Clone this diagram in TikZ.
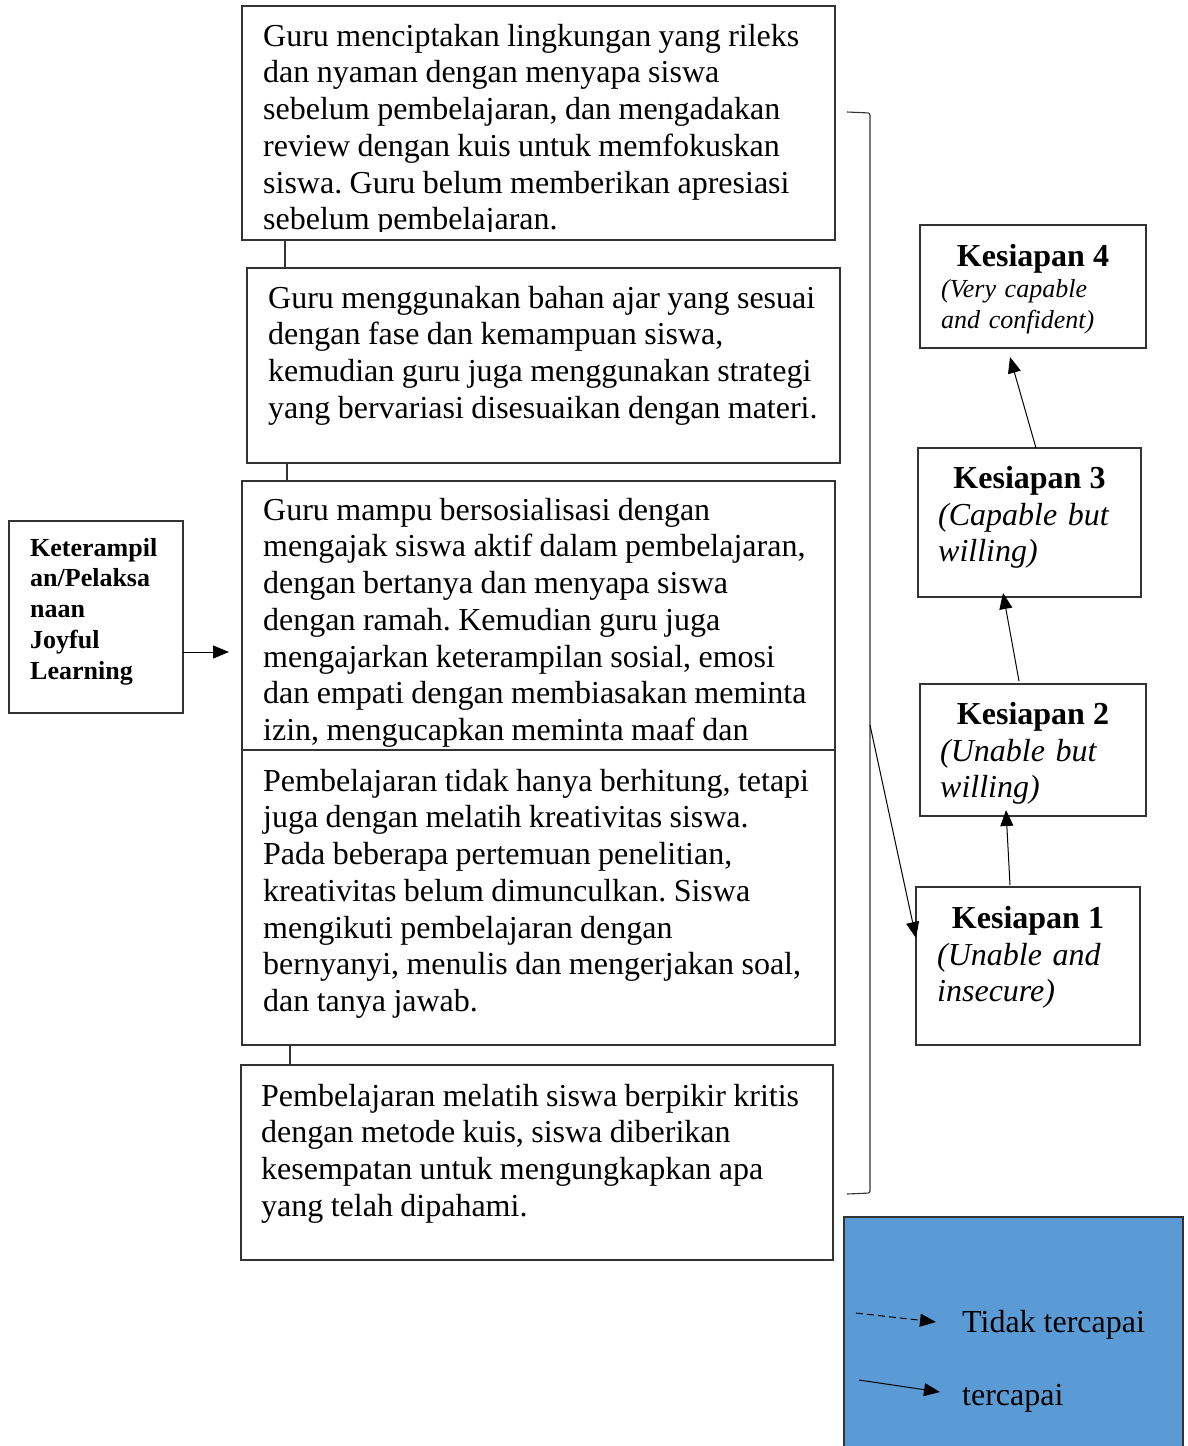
\documentclass[tikz,border=0pt]{standalone}
\usepackage{fontspec}
\setmainfont{Liberation Serif}
\usetikzlibrary{arrows.meta}
\definecolor{legendblue}{HTML}{5B9BD5}
\definecolor{edgegray}{gray}{0.2}
% slightly tighter word spacing for the long paragraphs
\newcommand\tightwords{\spaceskip=7.4pt plus 2pt minus 1pt\relax}

\begin{document}
\begin{tikzpicture}[x=1pt,y=-1pt,
  box/.style={draw=edgegray, line width=1.2pt, fill=white, rectangle,
    inner sep=0pt, outer sep=0pt, anchor=north west},
  conn/.style={draw=edgegray, line width=1.1pt},
  arr/.style={draw=black, line width=1pt, -{Triangle[length=16pt,width=13pt]}},
  body/.style={anchor=north west, inner sep=0pt, align=left, text width=600pt,
    font=\frenchspacing\fontsize{32}{36.7}\selectfont,
    execute at begin node=\tightwords, yshift=25.69pt},
  subbig/.style={anchor=north west, inner sep=0pt, align=left, text width=220pt,
    font=\itshape\fontsize{32}{36.7}\selectfont, yshift=25.69pt},
  subsmall/.style={anchor=north west, inner sep=0pt, align=left, text width=220pt,
    font=\itshape\fontsize{26}{31}\selectfont, yshift=21.7pt},
  sidelabel/.style={anchor=north west, inner sep=0pt, align=left, text width=170pt,
    font=\bfseries\fontsize{26}{30.75}\selectfont, yshift=21.53pt},
  ktitle/.style={anchor=base, inner sep=0pt, font=\bfseries\fontsize{32}{36.7}\selectfont},
  legendtext/.style={anchor=base west, inner sep=0pt, font=\fontsize{32}{36.7}\selectfont}
]
\useasboundingbox[fill=white] (0,0) rectangle (1187,1446);

% ---- left label ----
\node[box, minimum width=174pt, minimum height=192pt] (L) at (9,521) {};
\node[sidelabel] (Lt) at (30,556) {\strut Keterampil\\an/Pelaksa\\naan\\Joyful\\Learning};

% ---- column of activity boxes ----
\node[box, minimum width=593pt, minimum height=234pt] (A) at (242,6) {};
\begin{scope}
  \clip (242,6) rectangle (835,231);
  \node[body] (At) at (263,46) {\strut Guru menciptakan lingkungan yang rileks\\
    dan nyaman dengan menyapa siswa\\
    sebelum pembelajaran, dan mengadakan\\
    review dengan kuis untuk memfokuskan\\
    siswa. Guru belum memberikan apresiasi\\
    sebelum pembelajaran.};
\end{scope}

\node[box, minimum width=593pt, minimum height=195pt] (B) at (247,268) {};
\node[body] (Bt) at (268,308) {\strut Guru menggunakan bahan ajar yang sesuai\\
  dengan fase dan kemampuan siswa,\\
  kemudian guru juga menggunakan strategi\\
  yang bervariasi disesuaikan dengan materi.};

\node[box, minimum width=593pt, minimum height=269pt] (C) at (242,481) {};
\begin{scope}
  \clip (242,481) rectangle (835,750);
  \node[body] (Ct) at (263,520) {\strut Guru mampu bersosialisasi dengan\\
    mengajak siswa aktif dalam pembelajaran,\\
    dengan bertanya dan menyapa siswa\\
    dengan ramah. Kemudian guru juga\\
    mengajarkan keterampilan sosial, emosi\\
    dan empati dengan membiasakan meminta\\
    izin, mengucapkan meminta maaf dan};
\end{scope}

\node[box, minimum width=593pt, minimum height=295pt] (D) at (242,750) {};
\node[body] (Dt) at (263,791) {\strut Pembelajaran tidak hanya berhitung, tetapi\\
  juga dengan melatih kreativitas siswa.\\
  Pada beberapa pertemuan penelitian,\\
  kreativitas belum dimunculkan. Siswa\\
  mengikuti pembelajaran dengan\\
  bernyanyi, menulis dan mengerjakan soal,\\
  dan tanya jawab.};

\node[box, minimum width=592pt, minimum height=195pt] (E) at (241,1065) {};
\node[body] (Et) at (261,1106) {\strut Pembelajaran melatih siswa berpikir kritis\\
  dengan metode kuis, siswa diberikan\\
  kesempatan untuk mengungkapkan apa\\
  yang telah dipahami.};

% short links between stacked boxes
\draw[conn] ([xshift=43pt]A.south west) -- ([xshift=43pt]A.south west |- B.north);
\draw[conn] ([xshift=40pt]B.south west) -- ([xshift=40pt]B.south west |- C.north);
\draw[conn] ([xshift=48pt]D.south west) -- ([xshift=48pt]D.south west |- E.north);

% arrow from the label into the column
\draw[arr, shorten >=13pt] ([yshift=-35pt]L.east) -- ([yshift=-35pt]L.east -| C.west);

% ---- readiness levels ----
\node[box, minimum width=226pt, minimum height=123pt] (K4) at (920,225) {};
\node[ktitle] (K4t) at (1033,266) {Kesiapan 4};
\node[subsmall] (K4s) at (941,297) {\strut (Very capable\\and confident)};

\node[box, minimum width=223pt, minimum height=149pt] (K3) at (918,448) {};
\node[ktitle] (K3t) at (1029.5,488) {Kesiapan 3};
\node[subbig] (K3s) at (938,525) {\strut (Capable but\\willing)};

\node[box, minimum width=226pt, minimum height=132pt] (K2) at (920,684) {};
\node[ktitle] (K2t) at (1033,724) {Kesiapan 2};
\node[subbig] (K2s) at (940,761) {\strut (Unable but\\willing)};

\node[box, minimum width=224pt, minimum height=158pt] (K1) at (916,887) {};
\node[ktitle] (K1t) at (1028,928) {Kesiapan 1};
\node[subbig] (K1s) at (937,965) {\strut (Unable and\\insecure)};

\draw[arr] ([xshift=94pt,yshift=2pt]K1.north west) -- ([xshift=86pt,yshift=6pt]K2.south west);
\draw[arr] ([xshift=99pt,yshift=3pt]K2.north west) -- ([xshift=85pt,yshift=4pt]K3.south west);
\draw[arr] ([xshift=118pt]K3.north west) -- ([xshift=90pt,yshift=-9pt]K4.south west);

% bracket gathering the activity column
\coordinate (brTop) at (847,112);
\coordinate (brBot) at (847,1194);
\coordinate (brOut) at (870,725);
\draw[conn, rounded corners=2pt] (brTop) -- (870,113) -- (870,1193) -- (brBot);
\draw[arr] (brOut) -- ([yshift=-51pt]K1.north west);

% ---- legend ----
\node[box, fill=legendblue, minimum width=339pt, minimum height=240pt] (G) at (844,1217) {};
\coordinate (ldA) at (856,1313);
\coordinate (ldB) at (936,1322);
\coordinate (lsA) at (859,1380);
\coordinate (lsB) at (940,1392);
\draw[arr, dash pattern=on 7pt off 4pt] (ldA) -- (ldB);
\draw[arr] (lsA) -- (lsB);
\node[legendtext] (Gt1) at (962,1332) {Tidak tercapai};
\node[legendtext] (Gt2) at (962,1405) {tercapai};
\end{tikzpicture}
\end{document}
